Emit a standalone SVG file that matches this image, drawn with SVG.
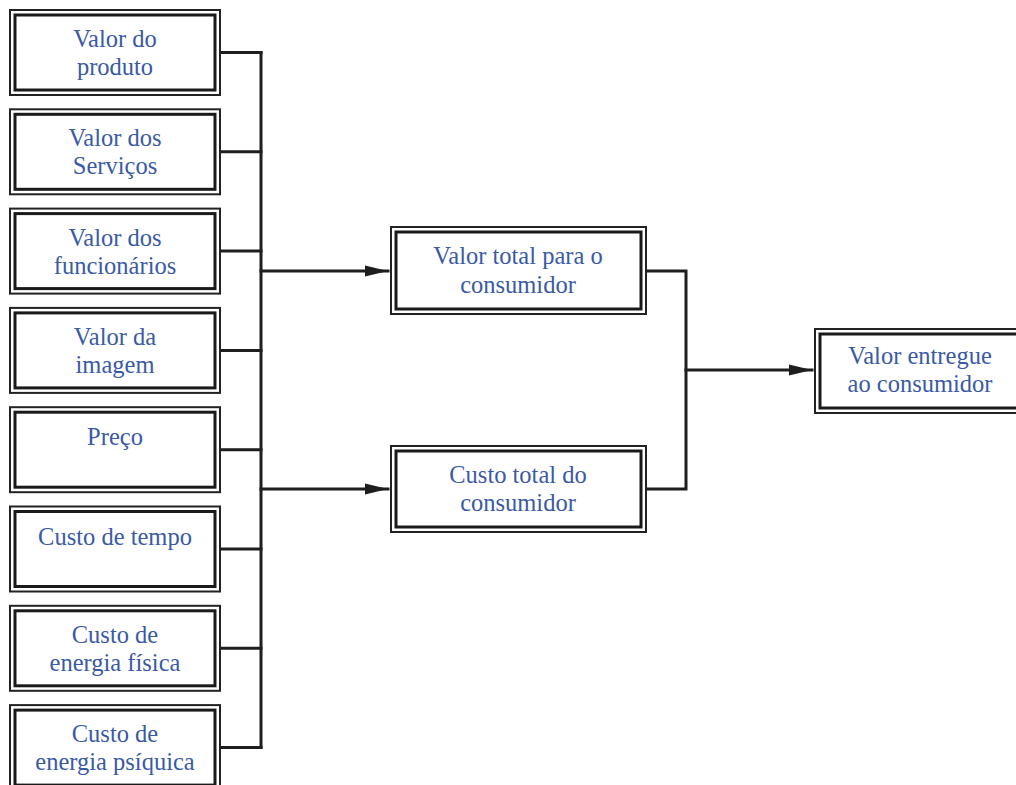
<svg xmlns="http://www.w3.org/2000/svg" width="1016" height="785" viewBox="0 0 1016 785">
  <style>
    .outer { fill: #ffffff; stroke: #222222; stroke-width: 2; }
    .inner { fill: none; stroke: #1a1a1a; stroke-width: 3; }
    .lbl { font-family: 'Liberation Serif', 'Times New Roman', serif; font-size: 24.5px; fill: #3a5aa6; text-anchor: middle; }
    .wire { fill: none; stroke: #1e1e1e; stroke-width: 3; stroke-linecap: square; }
  </style>
  <defs>
    <marker id="arrow" markerUnits="userSpaceOnUse" markerWidth="24" markerHeight="14" refX="23" refY="7" orient="auto">
      <path d="M0,1.5 L23,7 L0,12.5 Z" fill="#1e1e1e"/>
    </marker>
  </defs>
  <rect width="1016" height="785" fill="#ffffff"/>

  <!-- connectors -->
  <g id="connectors">
    <path class="wire" d="M220,52.5 H261 M220,151.8 H261 M220,251.1 H261 M220,350.4 H261 M220,449.7 H261 M220,549 H261 M220,648.3 H261 M220,747.6 H261"/>
    <path class="wire" d="M261,52.5 V747.6"/>
    <path class="wire" d="M261,271 H388" marker-end="url(#arrow)"/>
    <path class="wire" d="M261,489 H388" marker-end="url(#arrow)"/>
    <path class="wire" d="M646,271 H686 V489 H646"/>
    <path class="wire" d="M686,370 H812" marker-end="url(#arrow)"/>
  </g>

  <!-- left column -->
  <g id="valor-produto">
    <rect class="outer" x="10" y="10" width="210" height="85"/>
    <rect class="inner" x="15" y="15" width="200" height="75"/>
    <text class="lbl" x="115" y="47">Valor do</text>
    <text class="lbl" x="115" y="75">produto</text>
  </g>
  <g id="valor-servicos">
    <rect class="outer" x="10" y="109.3" width="210" height="85"/>
    <rect class="inner" x="15" y="114.3" width="200" height="75"/>
    <text class="lbl" x="115" y="146.3">Valor dos</text>
    <text class="lbl" x="115" y="174.3">Serviços</text>
  </g>
  <g id="valor-funcionarios">
    <rect class="outer" x="10" y="208.6" width="210" height="85"/>
    <rect class="inner" x="15" y="213.6" width="200" height="75"/>
    <text class="lbl" x="115" y="245.6">Valor dos</text>
    <text class="lbl" x="115" y="273.6">funcionários</text>
  </g>
  <g id="valor-imagem">
    <rect class="outer" x="10" y="307.9" width="210" height="85"/>
    <rect class="inner" x="15" y="312.9" width="200" height="75"/>
    <text class="lbl" x="115" y="344.9">Valor da</text>
    <text class="lbl" x="115" y="372.9">imagem</text>
  </g>
  <g id="preco">
    <rect class="outer" x="10" y="407.2" width="210" height="85"/>
    <rect class="inner" x="15" y="412.2" width="200" height="75"/>
    <text class="lbl" x="115" y="445">Preço</text>
  </g>
  <g id="custo-tempo">
    <rect class="outer" x="10" y="506.5" width="210" height="85"/>
    <rect class="inner" x="15" y="511.5" width="200" height="75"/>
    <text class="lbl" x="115" y="544.5">Custo de tempo</text>
  </g>
  <g id="custo-energia-fisica">
    <rect class="outer" x="10" y="605.8" width="210" height="85"/>
    <rect class="inner" x="15" y="610.8" width="200" height="75"/>
    <text class="lbl" x="115" y="642.8">Custo de</text>
    <text class="lbl" x="115" y="670.8">energia física</text>
  </g>
  <g id="custo-energia-psiquica">
    <rect class="outer" x="10" y="705.1" width="210" height="85"/>
    <rect class="inner" x="15" y="710.1" width="200" height="75"/>
    <text class="lbl" x="115" y="742.1">Custo de</text>
    <text class="lbl" x="115" y="770.1">energia psíquica</text>
  </g>

  <!-- totals -->
  <g id="valor-total">
    <rect class="outer" x="391" y="227" width="255" height="87"/>
    <rect class="inner" x="396" y="232" width="245" height="77"/>
    <text class="lbl" x="518" y="264">Valor total para o</text>
    <text class="lbl" x="518" y="293">consumidor</text>
  </g>
  <g id="custo-total">
    <rect class="outer" x="391" y="446" width="255" height="86"/>
    <rect class="inner" x="396" y="451" width="245" height="76"/>
    <text class="lbl" x="518" y="483">Custo total do</text>
    <text class="lbl" x="518" y="511">consumidor</text>
  </g>

  <!-- result -->
  <g id="valor-entregue">
    <rect class="outer" x="815" y="329" width="215" height="84"/>
    <rect class="inner" x="820" y="334" width="205" height="74"/>
    <text class="lbl" x="920" y="364">Valor entregue</text>
    <text class="lbl" x="920" y="392">ao consumidor</text>
  </g>
</svg>
